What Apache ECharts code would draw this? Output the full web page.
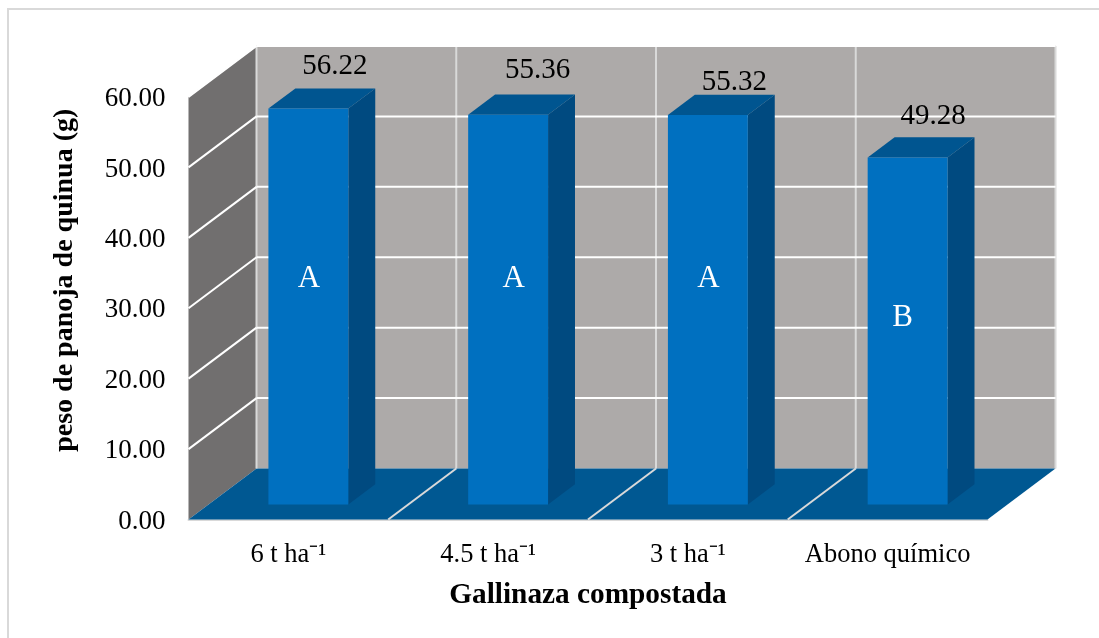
<!DOCTYPE html>
<html>
<head>
<meta charset="utf-8">
<title>peso de panoja de quinua</title>
<script src="https://cdn.jsdelivr.net/npm/echarts@6/dist/echarts.min.js"></script>
<style>
    html,body{margin:0;padding:0;background:#fff;overflow:hidden;}
    #main{width:1099px;height:638px;}
</style>
</head>
<body>
<div id="main"></div>
<script>
// datos
var categories = ['6 t ha⁻¹', '4.5 t ha⁻¹', '3 t ha⁻¹', 'Abono químico'];
var pesos = [56.22, 55.36, 55.32, 49.28];
var letras = ['A', 'A', 'A', 'B'];
var yTicks = [0, 10, 20, 30, 40, 50, 60];

// ajuste a mano de las etiquetas, igual que en el original
var numeroNudge = [[13, -22], [16, -24], [13, -12], [12, -21]];
var letraNudgeX = [0.5, 5.5, 0.5, -5];
var letraValor = [32, 32, 32, 26.5]; // altura de la letra, en unidades del eje

var DX = 68, DY = -51;          // profundidad de la caja
var FRONT = 0.294, BACK = 0.69; // donde empieza y acaba la barra en la profundidad
var SERIF = '"Liberation Serif", serif';

var myChart = echarts.init(document.getElementById('main'));

function poly(points, fill) {
    return {type: 'polygon', shape: {points: points}, style: {fill: fill}};
}
function line(p1, p2, color, w) {
    return {type: 'line', shape: {x1: p1[0], y1: p1[1], x2: p2[0], y2: p2[1]}, style: {stroke: color, lineWidth: w}};
}

// paredes y suelo
function renderCaja(params, api) {
    var cs = params.coordSys;
    var x0 = cs.x, x1 = cs.x + cs.width, yT = cs.y, yB = cs.y + cs.height;
    var kids = [
        poly([[x0, yT], [x0 + DX, yT + DY], [x0 + DX, yB + DY], [x0, yB]], '#716f6f'),
        poly([[x0 + DX, yT + DY], [x1 + DX, yT + DY], [x1 + DX, yB + DY], [x0 + DX, yB + DY]], '#adaaa9'),
        poly([[x0, yB], [x1, yB], [x1 + DX, yB + DY], [x0 + DX, yB + DY]], '#005892')
    ];
    // bordes claros de la caja
    kids.push(line([x0 + DX, yT + DY], [x1 + DX, yT + DY], '#d9d9d9', 2));
    kids.push(line([x1 + DX, yT + DY], [x1 + DX, yB + DY], '#d9d9d9', 2));
    kids.push(line([x0, yT], [x0 + DX, yT + DY], '#d9d9d9', 1));
    // separadores de categoria
    var band = cs.width / categories.length;
    for (var i = 0; i <= categories.length; i++) {
        var x = x0 + band * i;
        if (i < categories.length) kids.push(line([x + DX, yT + DY], [x + DX, yB + DY], '#d9d9d9', 2));
        if (i > 0 && i < categories.length) kids.push(line([x, yB], [x + DX, yB + DY], '#d9d9d9', 2));
    }
    return {type: 'group', children: kids};
}

// lineas horizontales, de la pared lateral a la de fondo
function renderGrid(params, api) {
    var cs = params.coordSys;
    var p = api.coord([0, api.value(1)]);
    var y = p[1];
    var x0 = cs.x, x1 = cs.x + cs.width;
    return {type: 'group', children: [
        line([x0, y], [x0 + DX, y + DY], '#ffffff', 2),
        line([x0 + DX, y + DY], [x1 + DX, y + DY], '#ffffff', 2)
    ]};
}

function renderBarra(params, api) {
    var i = params.dataIndex;
    var base = api.coord([i, 0]);
    var top = api.coord([i, api.value(1)]);
    var w = api.size([1, 0])[0] * 0.4;
    var fx = DX * FRONT, fy = DY * FRONT;
    var bx = DX * BACK, by = DY * BACK;
    var l = base[0] - w / 2 + fx, r = l + w;
    var yb = base[1] + fy, yt = top[1] + fy;
    var ybB = base[1] + by, ytB = top[1] + by;
    var dx = bx - fx;
    var cx = (l + r) / 2;
    var yLetra = api.coord([i, letraValor[i]])[1] + fy;
    return {type: 'group', children: [
        poly([[r, yt], [r + dx, ytB], [r + dx, ybB], [r, yb]], '#004a80'),
        poly([[l, yt], [l + dx, ytB], [r + dx, ytB], [r, yt]], '#005590'),
        poly([[l, yt], [r, yt], [r, yb], [l, yb]], '#0070c0'),
        {type: 'text', style: {
            x: cx + dx / 2 + numeroNudge[i][0], y: ytB + numeroNudge[i][1],
            text: pesos[i].toFixed(2), fill: '#000', align: 'center', verticalAlign: 'middle',
            font: '29px ' + SERIF
        }},
        {type: 'text', style: {
            x: cx + letraNudgeX[i], y: yLetra,
            text: letras[i], fill: '#fff', align: 'center', verticalAlign: 'middle',
            font: '31px ' + SERIF
        }}
    ]};
}

var option = {
    animation: false,
    backgroundColor: '#fff',
    textStyle: {fontFamily: SERIF},
    graphic: [{
        type: 'rect', silent: true,
        shape: {x: 8, y: 9, width: 1300, height: 900},
        style: {fill: 'none', stroke: '#d9d9d9', lineWidth: 2}
    }],
    grid: {left: 188.5, top: 97, width: 799, height: 422.5},
    xAxis: {
        type: 'category',
        data: categories,
        name: 'Gallinaza compostada',
        nameLocation: 'middle',
        nameGap: 61,
        nameTextStyle: {fontFamily: SERIF, fontSize: 29.3, fontWeight: 'bold', color: '#000'},
        axisLine: {show: true, lineStyle: {color: '#d9d9d9', width: 2}},
        axisTick: {show: false},
        axisLabel: {fontFamily: SERIF, fontSize: 26.5, color: '#000', margin: 22, interval: 0, hideOverlap: false}
    },
    yAxis: {
        type: 'value',
        min: 0,
        max: 60,
        interval: 10,
        name: 'peso de panoja de quinua (g)',
        nameLocation: 'middle',
        nameGap: 110,
        nameTextStyle: {fontFamily: SERIF, fontSize: 28, fontWeight: 'bold', color: '#000', padding: [0, 0, 0, 56]},
        axisLine: {show: false},
        axisTick: {show: false},
        splitLine: {show: false},
        axisLabel: {
            color: '#000', margin: 23,
            formatter: function (v) { return yTicks.indexOf(v) >= 0 ? '{n|' + v.toFixed(2) + '}' : ''; },
            rich: {n: {fontFamily: SERIF, fontSize: 27, color: '#000', padding: [4, 0, 0, 0]}}
        }
    },
    series: [
        {type: 'custom', name: 'caja', renderItem: renderCaja, data: [[0, 0]], clip: false, silent: true, z: 1, encode: {x: 0, y: 1}},
        {type: 'custom', name: 'lineas', renderItem: renderGrid, data: yTicks.slice(1).map(function (v) { return [0, v]; }), clip: false, silent: true, z: 2, encode: {x: 0, y: 1}},
        {type: 'custom', name: 'peso', renderItem: renderBarra, data: pesos.map(function (v, i) { return [i, v]; }), clip: false, z: 3, encode: {x: 0, y: 1}}
    ]
};

if (option && typeof option === "object") {
    myChart.setOption(option, true);
}
</script>
</body>
</html>
